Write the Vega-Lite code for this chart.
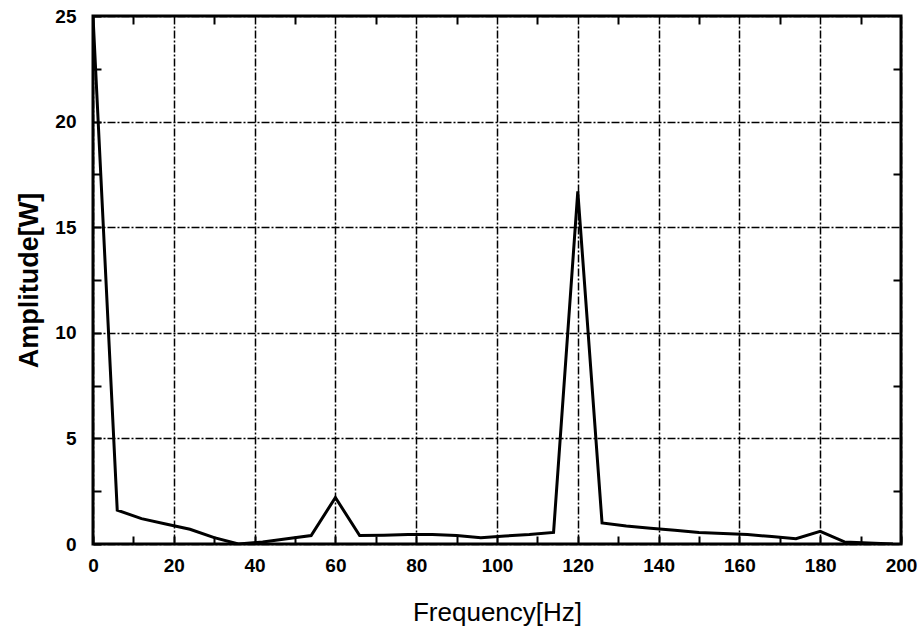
{
  "$schema": "https://vega.github.io/schema/vega-lite/v6.json",
  "autosize": {"type": "none"},
  "width": 808,
  "height": 528,
  "padding": {"left": 93, "top": 16, "right": 23, "bottom": 83},
  "background": "white",
  "config": {
    "view": {"stroke": "black", "strokeWidth": 3},
    "axis": {
      "domain": false,
      "labelFont": "Liberation Sans",
      "labelFontWeight": "bold",
      "labelFontSize": 19,
      "labelColor": "black",
      "labelFlush": false,
      "titleFont": "Liberation Sans",
      "titleColor": "black",
      "tickColor": "black",
      "tickWidth": 2,
      "gridColor": "black",
      "gridWidth": 1.5,
      "gridDash": [8, 2, 2, 2]
    }
  },
  "data": {"values": [
    {"f": 0, "a": 25}, {"f": 6, "a": 1.6}, {"f": 12, "a": 1.2}, {"f": 18, "a": 0.95},
    {"f": 24, "a": 0.7}, {"f": 30, "a": 0.3}, {"f": 36, "a": 0.0}, {"f": 42, "a": 0.1},
    {"f": 48, "a": 0.25}, {"f": 54, "a": 0.4}, {"f": 60, "a": 2.2}, {"f": 66, "a": 0.4},
    {"f": 72, "a": 0.42}, {"f": 78, "a": 0.45}, {"f": 84, "a": 0.45}, {"f": 90, "a": 0.4},
    {"f": 96, "a": 0.3}, {"f": 102, "a": 0.38}, {"f": 108, "a": 0.45}, {"f": 114, "a": 0.55},
    {"f": 120, "a": 16.7}, {"f": 126, "a": 1.0}, {"f": 132, "a": 0.85}, {"f": 138, "a": 0.75},
    {"f": 144, "a": 0.65}, {"f": 150, "a": 0.55}, {"f": 156, "a": 0.5}, {"f": 162, "a": 0.45},
    {"f": 168, "a": 0.35}, {"f": 174, "a": 0.25}, {"f": 180, "a": 0.6}, {"f": 186, "a": 0.1},
    {"f": 192, "a": 0.05}, {"f": 198, "a": 0.0}
  ]},
  "layer": [
    {
      "mark": {"type": "line", "color": "black", "strokeWidth": 3, "clip": true},
      "encoding": {
        "x": {"field": "f", "type": "quantitative", "scale": {"domain": [0, 200], "nice": false},
          "axis": {"orient": "bottom", "title": "Frequency[Hz]", "titleFontSize": 26, "titleFontWeight": "normal", "titlePadding": 24,
            "values": [0,10,20,30,40,50,60,70,80,90,100,110,120,130,140,150,160,170,180,190,200],
            "labelExpr": "datum.value % 20 === 0 ? datum.label : ''",
            "gridOpacity": {"condition": {"test": "datum.value % 20 === 0", "value": 1}, "value": 0},
            "offset": -8, "tickSize": 8, "labelPadding": 12}},
        "y": {"field": "a", "type": "quantitative", "scale": {"domain": [0, 25], "nice": false},
          "axis": {"orient": "left", "title": "Amplitude[W]", "titleFontSize": 27, "titleFontWeight": "bold", "titlePadding": 11,
            "values": [0,2.5,5,7.5,10,12.5,15,17.5,20,22.5,25],
            "labelExpr": "datum.value % 5 === 0 ? datum.label : ''",
            "gridOpacity": {"condition": {"test": "datum.value % 5 === 0", "value": 1}, "value": 0},
            "offset": -8, "tickSize": 8, "labelPadding": 17}}
      }
    },
    {
      "mark": {"type": "line", "opacity": 0},
      "encoding": {
        "x": {"field": "f", "type": "quantitative",
          "axis": {"orient": "top", "title": null, "labels": false, "grid": false,
            "values": [10,30,50,70,90,110,130,150,170,190], "offset": -8, "tickSize": 8}},
        "y": {"field": "a", "type": "quantitative",
          "axis": {"orient": "right", "title": null, "labels": false, "grid": false,
            "values": [2.5,7.5,12.5,17.5,22.5], "offset": -8, "tickSize": 8}}
      }
    }
  ],
  "resolve": {"axis": {"x": "independent", "y": "independent"}}
}
